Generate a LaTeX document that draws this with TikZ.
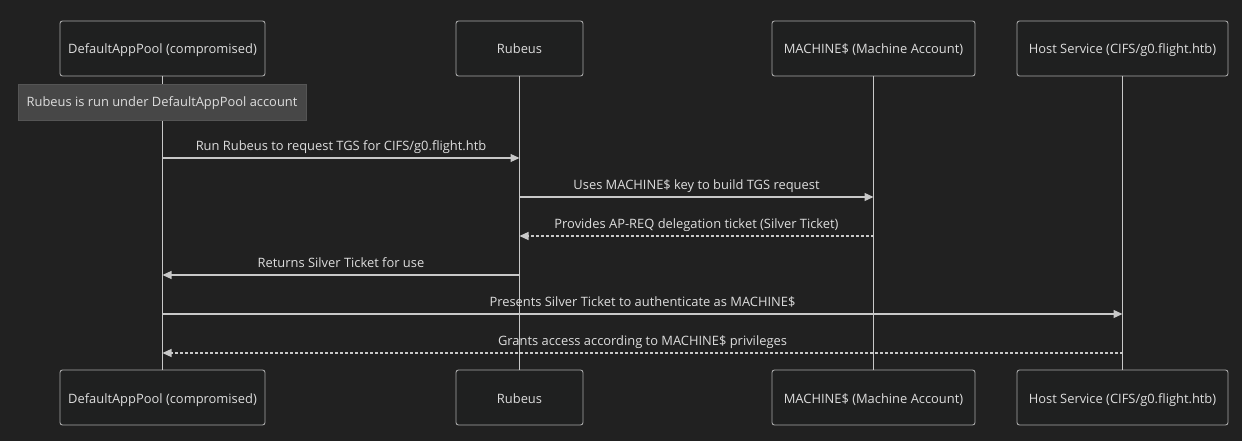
\documentclass[tikz,border=0pt]{standalone}
\usepackage{fontspec}
\setmainfont{Open Sans}
\usetikzlibrary{arrows.meta}
\definecolor{bg}{HTML}{212121}
\definecolor{boxfill}{HTML}{1F2020}
\definecolor{boxline}{HTML}{A8A8A8}
\definecolor{txt}{HTML}{DDDDDD}
\definecolor{notefill}{HTML}{474747}
\definecolor{noteline}{HTML}{555555}
\definecolor{lifeline}{HTML}{C8C8C8}
\tikzset{
  actor/.style={draw=boxline, fill=boxfill, rounded corners=2.5pt, line width=0.9pt, text=txt, font=\fontsize{12.9}{15}\selectfont, minimum height=55pt, inner sep=0pt, text height=11.5pt, text depth=0.5pt},
  lifelinestyle/.style={draw=lifeline, line width=1.3pt},
  msg/.style={draw=lifeline, line width=1.3pt, -{Triangle[length=9pt,width=8pt]}},
  reply/.style={msg, dash pattern=on 3pt off 2pt},
  lbl/.style={text=txt, font=\fontsize{12.9}{15}\selectfont, inner sep=0pt, text height=11.5pt, text depth=0.5pt},
  note/.style={fill=notefill, draw=noteline, text=txt, font=\fontsize{12.9}{15}\selectfont, minimum width=288pt, minimum height=36pt, inner sep=0pt, text height=11pt, text depth=1pt}
}
\begin{document}
\begin{tikzpicture}[x=1pt,y=-1pt]
\fill[bg] (0,0) rectangle (1242,441);
\useasboundingbox (0,0) rectangle (1242,441);
% top actors
\node[actor, minimum width=205pt] (a1) at (162.5,48.5) {DefaultAppPool (compromised)};
\node[actor, minimum width=127pt] (a2) at (519.5,48.5) {Rubeus};
\node[actor, minimum width=203pt] (a3) at (873.5,48.5) {MACHINE\$ (Machine Account)};
\node[actor, minimum width=211pt] (a4) at (1122.5,48.5) {Host Service (CIFS/g0.flight.htb)};
% bottom actors
\node[actor, minimum width=205pt] (b1) at (162.5,397.5) {DefaultAppPool (compromised)};
\node[actor, minimum width=127pt] (b2) at (519.5,397.5) {Rubeus};
\node[actor, minimum width=203pt] (b3) at (873.5,397.5) {MACHINE\$ (Machine Account)};
\node[actor, minimum width=211pt] (b4) at (1122.5,397.5) {Host Service (CIFS/g0.flight.htb)};
% lifelines
\draw[lifelinestyle] (a1.south) -- (b1.north);
\draw[lifelinestyle] (a2.south) -- (b2.north);
\draw[lifelinestyle] (a3.south) -- (b3.north);
\draw[lifelinestyle] (a4.south) -- (b4.north);
% note
\node[note] (n1) at (162,102) {Rubeus is run under DefaultAppPool account};
% message anchor points
\coordinate (p1a) at (a1.south |- 0,158); \coordinate (p1b) at (a2.south |- 0,158);
\coordinate (p2a) at (a2.south |- 0,197); \coordinate (p2b) at (a3.south |- 0,197);
\coordinate (p3a) at (a3.south |- 0,236); \coordinate (p3b) at (a2.south |- 0,236);
\coordinate (p4a) at (a2.south |- 0,275); \coordinate (p4b) at (a1.south |- 0,275);
\coordinate (p5a) at (a1.south |- 0,314); \coordinate (p5b) at (a4.south |- 0,314);
\coordinate (p6a) at (a4.south |- 0,353); \coordinate (p6b) at (a1.south |- 0,353);
\draw[msg] (p1a) -- (p1b) node[lbl, midway, above=6pt] {Run Rubeus to request TGS for CIFS/g0.flight.htb};
\draw[msg] (p2a) -- (p2b) node[lbl, midway, above=6pt] {Uses MACHINE\$ key to build TGS request};
\draw[reply] (p3a) -- (p3b) node[lbl, midway, above=6pt] {Provides AP-REQ delegation ticket (Silver Ticket)};
\draw[msg] (p4a) -- (p4b) node[lbl, midway, above=6pt] {Returns Silver Ticket for use};
\draw[msg] (p5a) -- (p5b) node[lbl, midway, above=6pt] {Presents Silver Ticket to authenticate as MACHINE\$};
\draw[reply] (p6a) -- (p6b) node[lbl, midway, above=6pt] {Grants access according to MACHINE\$ privileges};
\end{tikzpicture}
\end{document}
